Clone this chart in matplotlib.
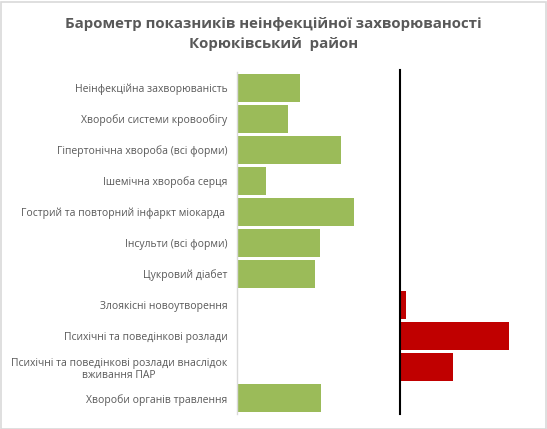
import matplotlib
matplotlib.use("Agg")
import matplotlib.pyplot as plt
from matplotlib.patches import Rectangle

categories = [
    "Неінфекційна захворюваність",
    "Хвороби системи кровообігу",
    "Гіпертонічна хвороба (всі форми)",
    "Ішемічна хвороба серця",
    "Гострий та повторний інфаркт міокарда ",
    "Інсульти (всі форми)",
    "Цукровий діабет",
    "Злоякісні новоутворення",
    "Психічні та поведінкові розлади",
    "Психічні та поведінкові розлади внаслідок\nвживання ПАР",
    "Хвороби органів травлення",
]
green_values = [63, 51, 104, 29, 117, 83, 78, 0, 0, 0, 84]
red_values = [0, 0, 0, 0, 0, 0, 0, 5, 108, 52, 0]
baseline = 163
title = "Барометр показників неінфекційної захворюваності\nКорюківський  район"

W, H = 547, 429
fig = plt.figure(figsize=(W / 100, H / 100), dpi=100)
fig.patches.append(Rectangle((0.5 / W, 0.5 / H), 1 - 2 / W, 1 - 2 / H, transform=fig.transFigure,
                             fill=False, edgecolor="#d9d9d9", linewidth=1.2))

ax = fig.add_axes([237 / W, 1 - 414 / H, 293 / W, 342 / H])
n = len(categories)
ys = list(range(n))
ax.barh(ys, green_values, left=0, height=0.9, color="#9bbb59")
ax.barh(ys, red_values, left=baseline + 1, height=0.9, color="#c00000")
ax.set_ylim(n - 0.5, -0.5)
ax.set_xlim(0, 293)
ax.axvline(baseline, ymin=0, ymax=1.006, color="black", linewidth=1.5, clip_on=False)

for s in ["top", "right", "bottom"]:
    ax.spines[s].set_visible(False)
ax.spines["left"].set_color("#d9d9d9")
ax.spines["left"].set_linewidth(1)
ax.set_xticks([])
ax.set_yticks(ys)
ax.set_yticklabels(categories, fontsize=7.5, color="#595959", family=["Open Sans", "DejaVu Sans"],
                   multialignment="center")
ax.tick_params(axis="y", length=0, pad=7)

fig.text(0.5, 1 - 34 / H, title, ha="center", va="center", fontsize=10.8, fontweight="bold",
         color="#595959", family=["Open Sans", "DejaVu Sans"], linespacing=1.62)

fig.savefig("out.png", dpi=100)
